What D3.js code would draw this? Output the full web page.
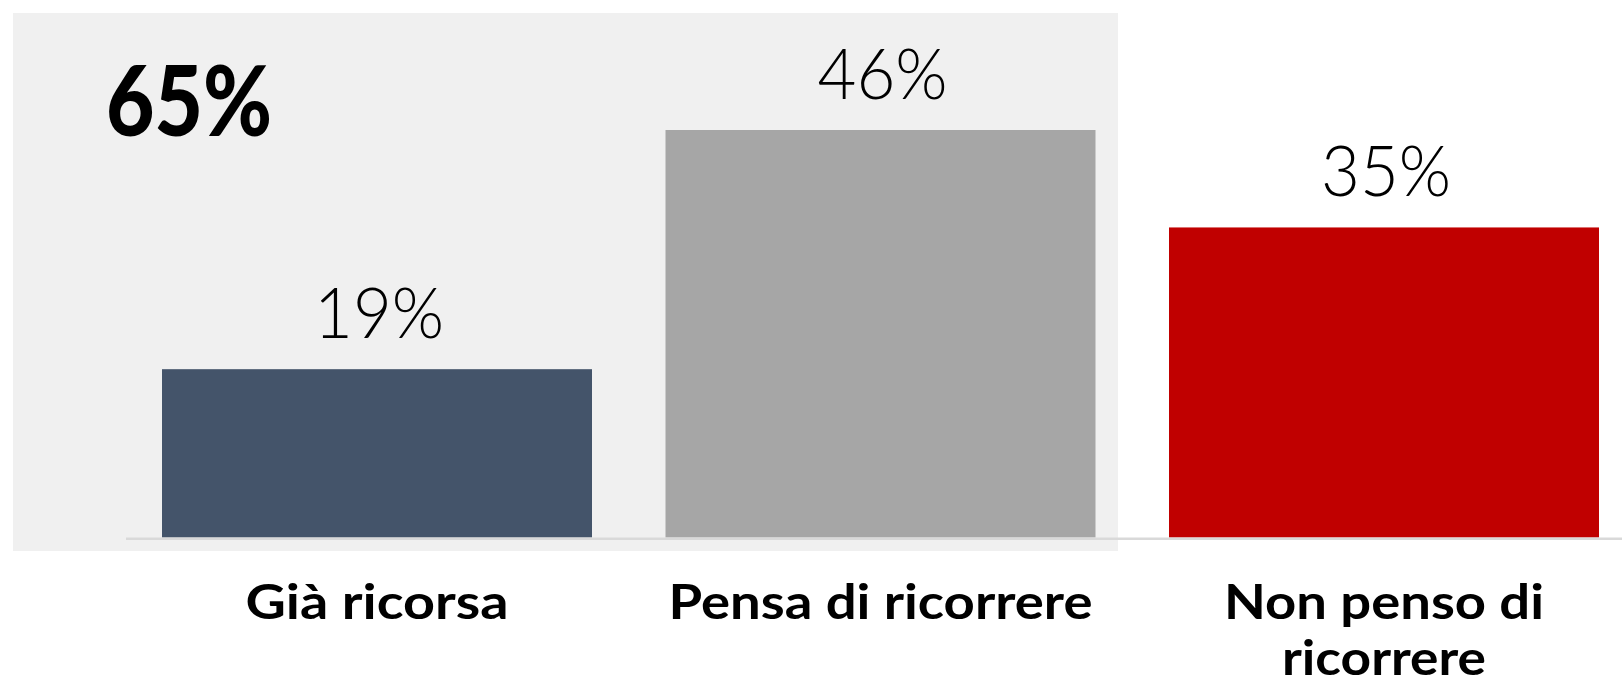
<!DOCTYPE html>
<html>
<head>
<meta charset="utf-8">
<script src="https://cdn.jsdelivr.net/npm/d3@7"></script>
<style>
  html, body { margin: 0; padding: 0; background: #ffffff; }
  svg { display: block; }
</style>
</head>
<body>
<svg id="chart" width="1622" height="685"></svg>
<script>
// ---- data ----
const categories = ["Già ricorsa", "Pensa di ricorrere", "Non penso di ricorrere"];
const categoryLines = [["Già ricorsa"], ["Pensa di ricorrere"], ["Non penso di", "ricorrere"]];
const values = [19, 46, 35];
const valueLabels = ["19%", "46%", "35%"];
const barColors = ["#44546A", "#A6A6A6", "#C00000"];
const totalLabel = "65%";

// ---- layout ----
const W = 1622, H = 685;
const baseY = 537.5;
const svg = d3.select("#chart");

const x = d3.scaleBand()
  .domain(categories)
  .range([125.25, 1635.75])
  .paddingInner(0.146)
  .paddingOuter(0.073);

const y = d3.scaleLinear()
  .domain([0, 46])
  .range([baseY, 130]);

// highlight background box (covers first two categories)
svg.append("rect")
  .attr("x", 13).attr("y", 13)
  .attr("width", 1105).attr("height", 538)
  .attr("fill", "#F0F0F0");

// bars
svg.selectAll("rect.bar")
  .data(values)
  .join("rect")
  .attr("class", "bar")
  .attr("x", (d, i) => x(categories[i]))
  .attr("y", d => y(d))
  .attr("width", x.bandwidth())
  .attr("height", d => y(0) - y(d))
  .attr("fill", (d, i) => barColors[i]);

// axis baseline
svg.append("line")
  .attr("x1", 126).attr("x2", W)
  .attr("y1", 538.7).attr("y2", 538.7)
  .attr("stroke", "#D9D9D9")
  .attr("stroke-width", 2.6);

// value labels
svg.selectAll("text.val")
  .data(values)
  .join("text")
  .attr("class", "val")
  .attr("x", (d, i) => x(categories[i]) + x.bandwidth() / 2 + 2)
  .attr("y", d => y(d) - 31)
  .attr("text-anchor", "middle")
  .attr("font-family", "Lato, 'Open Sans', sans-serif")
  .attr("font-weight", 300)
  .attr("font-size", 70)
  .attr("fill", "#000")
  .attr("textLength", 130)
  .attr("lengthAdjust", "spacingAndGlyphs")
  .text((d, i) => valueLabels[i]);

// total label
svg.append("text")
  .attr("x", 106)
  .attr("y", 136)
  .attr("font-family", "Lato, 'Open Sans', sans-serif")
  .attr("font-weight", 900)
  .attr("font-size", 97)
  .attr("fill", "#000")
  .attr("textLength", 166)
  .attr("lengthAdjust", "spacingAndGlyphs")
  .text(totalLabel);

// category labels
const lineWidths = [[263], [424], [320, 204]];
categoryLines.forEach((lines, i) => {
  const cx = x(categories[i]) + x.bandwidth() / 2;
  lines.forEach((ln, j) => {
    svg.append("text")
      .attr("x", cx)
      .attr("y", 619 + j * 55.5)
      .attr("text-anchor", "middle")
      .attr("font-family", "Lato, 'Open Sans', sans-serif")
      .attr("font-weight", 700)
      .attr("font-size", 47)
      .attr("fill", "#000")
      .attr("textLength", lineWidths[i][j])
      .attr("lengthAdjust", "spacingAndGlyphs")
      .text(ln);
  });
});
</script>
</body>
</html>
